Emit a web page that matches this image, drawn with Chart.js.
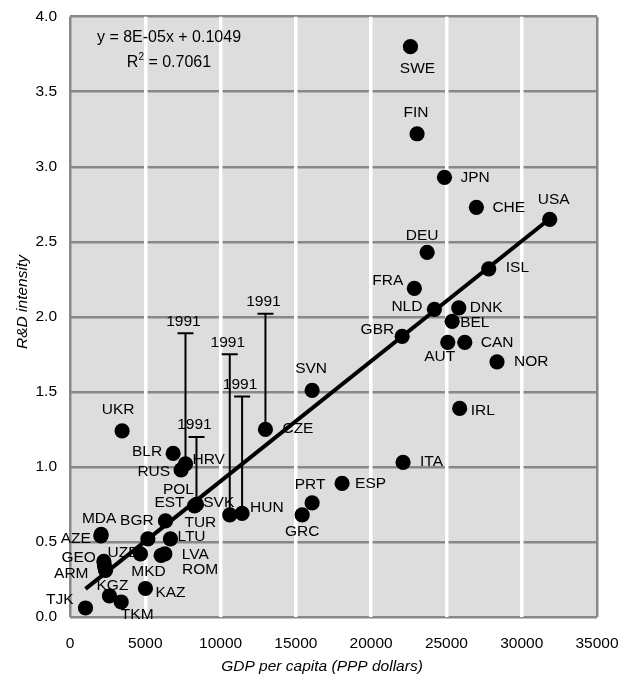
<!DOCTYPE html>
<html><head><meta charset="utf-8">
<script src="https://cdn.jsdelivr.net/npm/chart.js@4.4.1/dist/chart.umd.min.js"></script>
<style>html,body{margin:0;padding:0;background:#fff;}#wrap{width:618px;height:675px;}</style>
</head><body><div id="wrap"><canvas id="c" width="618" height="675"></canvas></div>
<script>
// ---- data ----
const countries = ['SWE','FIN','JPN','CHE','USA','DEU','ISL','FRA','NLD','DNK','BEL','GBR','AUT','CAN','NOR','IRL','SVN','CZE','ITA','ESP','PRT','GRC','HUN','SVK','POL','EST','UKR','BLR','HRV','RUS','TUR','BGR','LTU','MKD','LVA','ROM','MDA','AZE','UZB','GEO','ARM','KGZ','KAZ','TKM','TJK'];
const gdpPerCapita = [22610,23050,24870,26990,31860,23720,27810,22870,24200,25820,25380,22060,25090,26220,28360,25880,16080,12980,22120,18070,16080,15420,11430,10610,8400,8270,3460,6850,7670,7380,6340,5170,6670,4680,6300,6050,2070,2050,2290,2250,2360,2620,5010,3400,1030];
const rdIntensity = [3.80,3.22,2.93,2.73,2.65,2.43,2.32,2.19,2.05,2.06,1.97,1.87,1.83,1.83,1.70,1.39,1.51,1.25,1.03,0.89,0.76,0.68,0.69,0.68,0.75,0.74,1.24,1.09,1.02,0.98,0.64,0.52,0.52,0.42,0.42,0.41,0.55,0.54,0.34,0.37,0.31,0.14,0.19,0.10,0.06];
const bar1991Countries = ['HRV','POL','SVK','HUN','CZE'];
const rd1991 = [1.89,1.20,1.75,1.47,2.02];
const bar1991Label = '1991';
const trendSlope = 8e-5;
const trendIntercept = 0.1049;
const equationText = 'y = 8E-05x + 0.1049';
const r2Text = '0.7061';
const xTitle = 'GDP per capita (PPP dollars)';
const yTitle = 'R&D intensity';
const xMin = 0, xMax = 35000, xStep = 5000;
const yMin = 0, yMax = 4, yStep = 0.5;

// ---- style: label offsets (px) relative to each dot ----
const labelOffsets = {
  SWE:[7,22,'c'],FIN:[-1,-21,'c'],JPN:[16,0,'l'],CHE:[16,0,'l'],USA:[4,-20,'c'],DEU:[-5,-17,'c'],
  ISL:[17,-1,'l'],FRA:[-11,-8,'r'],NLD:[-12,-3,'r'],DNK:[11,0,'l'],BEL:[8,1,'l'],GBR:[-8,-7,'r'],
  AUT:[-8,14,'c'],CAN:[16,0,'l'],NOR:[17,0,'l'],IRL:[11,2,'l'],SVN:[-1,-22,'c'],CZE:[17,-1,'l'],
  ITA:[17,-1,'l'],ESP:[13,0,'l'],PRT:[-2,-18,'c'],GRC:[0,17,'c'],HUN:[8,-6,'l'],SVK:[-11,-12,'c'],
  POL:[-18,-15,'c'],EST:[-10,-3,'r'],UKR:[-4,-21,'c'],BLR:[-11,-2,'r'],HRV:[7,-4,'l'],RUS:[-11,2,'r'],
  TUR:[19,2,'l'],BGR:[-11,-18,'c'],LTU:[7,-2,'l'],MKD:[8,18,'c'],LVA:[17,1,'l'],ROM:[21,14,'l'],
  MDA:[-2,-16,'c'],AZE:[-10,3,'r'],UZB:[3,-13,'l'],GEO:[-8,-4,'r'],ARM:[-17,3,'r'],KGZ:[3,-10,'c'],
  KAZ:[10,4,'l'],TKM:[16,13,'c'],TJK:[-12,-8,'r']
};
const FONT = '"Liberation Sans", Arial, sans-serif';
const FS = 15.5;
const GRID_GRAY = '#888888';

const points = countries.map((c,i)=>({x:gdpPerCapita[i], y:rdIntensity[i]}));
const minX = Math.min(...gdpPerCapita), maxX = Math.max(...gdpPerCapita);
const trend = [{x:minX, y:trendSlope*minX+trendIntercept},{x:maxX, y:trendSlope*maxX+trendIntercept}];

const barSets = bar1991Countries.map((c,k)=>{
  const i = countries.indexOf(c);
  return {type:'line', data:[{x:gdpPerCapita[i], y:rdIntensity[i]},{x:gdpPerCapita[i], y:rd1991[k]}],
    borderColor:'#000', borderWidth:2, pointRadius:0, showLine:true, fill:false, order:3};
});
const caps = bar1991Countries.map((c,k)=>({x:gdpPerCapita[countries.indexOf(c)], y:rd1991[k]}));

const bgPlugin = {
  id:'bg',
  beforeDraw(chart){
    const {ctx, chartArea:a} = chart;
    ctx.save(); ctx.fillStyle='#dddddd';
    ctx.fillRect(a.left, a.top, a.right-a.left, a.bottom-a.top);
    ctx.restore();
  }
};

const textPlugin = {
  id:'texts',
  beforeDatasetsDraw(chart){
    const {ctx, scales:{x,y}} = chart;
    ctx.save();
    ctx.fillStyle='#000';
    ctx.font = FS+'px '+FONT;
    ctx.textBaseline='middle';
    countries.forEach((c,i)=>{
      const o = labelOffsets[c] || [10,0,'l'];
      const px = x.getPixelForValue(gdpPerCapita[i]) + o[0];
      const py = y.getPixelForValue(rdIntensity[i]) + o[1];
      ctx.textAlign = o[2]==='l'?'left':(o[2]==='r'?'right':'center');
      ctx.fillText(c, px, py);
    });
    ctx.textAlign='center';
    caps.forEach(p=>{
      ctx.fillText(bar1991Label, x.getPixelForValue(p.x)-2, y.getPixelForValue(p.y)-12);
    });
    ctx.restore();
  },
  afterDraw(chart){
    const {ctx} = chart;
    ctx.save();
    ctx.fillStyle='#000';
    ctx.textBaseline='middle';
    ctx.font = '16px '+FONT;
    ctx.textAlign='center';
    ctx.fillText(equationText, 169, 38);
    const rest = ' = '+r2Text;
    const wR = ctx.measureText('R').width;
    ctx.font = '10px '+FONT;
    const w2 = ctx.measureText('2').width;
    ctx.font = '16px '+FONT;
    const wRest = ctx.measureText(rest).width;
    let sx = 169 - (wR+w2+wRest)/2;
    ctx.textAlign='left';
    ctx.fillText('R', sx, 63);
    ctx.font = '10px '+FONT;
    ctx.fillText('2', sx+wR, 57);
    ctx.font = '16px '+FONT;
    ctx.fillText(rest, sx+wR+w2, 63);
    ctx.font = 'italic '+FS+'px '+FONT;
    ctx.textAlign='center';
    ctx.fillText(xTitle, 322, 667);
    ctx.translate(22.5, 302);
    ctx.rotate(-Math.PI/2);
    ctx.fillText(yTitle, 0, 0);
    ctx.restore();
  }
};

new Chart(document.getElementById('c').getContext('2d'), {
  type:'scatter',
  data:{datasets:[
    {type:'scatter', data:points, backgroundColor:'#000', borderWidth:0, pointRadius:7.6, pointHoverRadius:7.6, order:1},
    {type:'line', data:trend, borderColor:'#000', borderWidth:4, pointRadius:0, showLine:true, fill:false, order:2},
    ...barSets,
    {type:'scatter', data:caps, pointStyle:'line', pointRadius:8, borderColor:'#000', borderWidth:2, order:3}
  ]},
  options:{
    responsive:false, animation:false, devicePixelRatio:1,
    layout:{padding:{left:0,right:21,top:16.7,bottom:0}},
    plugins:{legend:{display:false}, tooltip:{enabled:false}},
    scales:{
      x:{type:'linear', min:xMin, max:xMax,
        ticks:{stepSize:xStep, padding:17, color:'#000', maxRotation:0, autoSkip:false,
          font:{family:FONT, size:FS}, callback:v=>String(v)},
        grid:{drawTicks:false, z:-1,
          color:c=> (c.tick && (c.tick.value===xMin || c.tick.value===xMax)) ? GRID_GRAY : '#ffffff',
          lineWidth:c=> (c.tick && (c.tick.value===xMin || c.tick.value===xMax)) ? 2.5 : 3.5},
        border:{display:false},
        afterFit(s){ s.height = 58; s.paddingLeft = 0; s.paddingRight = 0; }
      },
      y:{type:'linear', min:yMin, max:yMax,
        ticks:{stepSize:yStep, padding:13, color:'#000', font:{family:FONT, size:FS}, callback:v=>Number(v).toFixed(1)},
        grid:{drawTicks:false, z:-2, color:GRID_GRAY, lineWidth:2.5},
        border:{display:false},
        afterFit(s){ s.width = 70; s.paddingTop = 0; s.paddingBottom = 0; }
      }
    }
  },
  plugins:[bgPlugin, textPlugin]
});
</script></body></html>
